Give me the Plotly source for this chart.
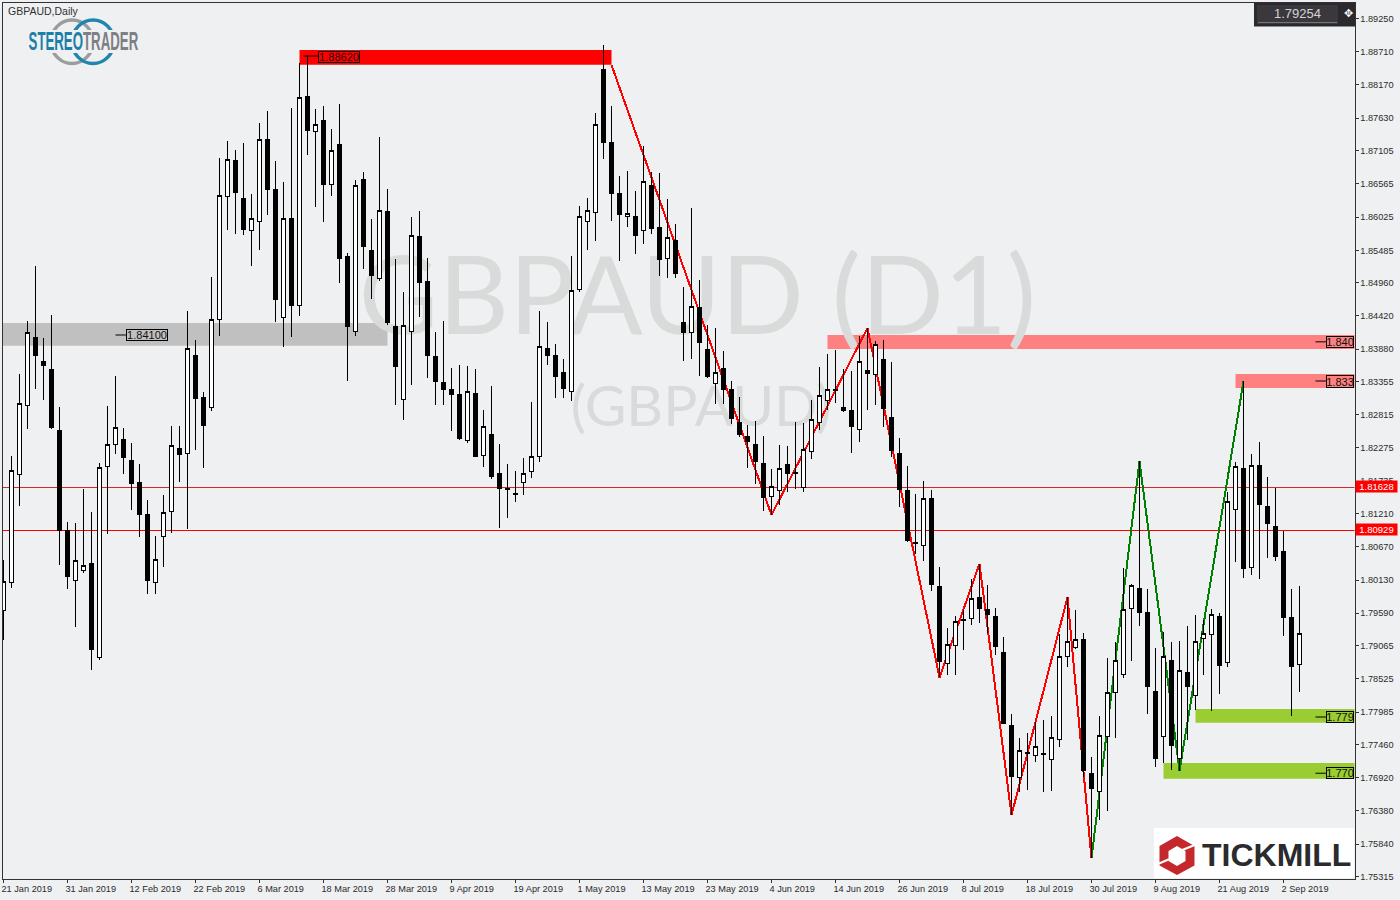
import plotly.graph_objects as go

highs = [1.80455,1.82144,1.83476,1.84337,1.85230,1.84061,1.84434,1.82940,1.81072,1.81056,
1.81608,1.81235,1.82026,1.82956,1.83443,1.82599,1.82355,1.82014,1.81430,1.80845,
1.81511,1.82631,1.82631,1.84499,1.84028,1.83179,1.85051,1.86984,1.87260,1.87114,
1.87228,1.86399,1.87552,1.87747,1.86935,1.86594,1.87796,1.88527,1.88640,1.87780,
1.87828,1.87455,1.87861,1.85436,1.86627,1.86757,1.85993,1.87325,1.86480,1.85344,
1.84808,1.86026,1.86123,1.85360,1.84158,1.84337,1.83573,1.83622,1.83606,1.83557,
1.82891,1.83281,1.82339,1.82014,1.81900,1.82112,1.83021,1.84499,1.84320,1.83963,
1.83719,1.85392,1.86204,1.86334,1.87715,1.88819,1.87828,1.86692,1.86773,1.86448,
1.87179,1.86757,1.86740,1.86318,1.85912,1.84889,1.86172,1.85003,1.84272,1.84223,
1.83849,1.83362,1.83102,1.82648,1.82713,1.82469,1.81933,1.82323,1.82307,1.82696,
1.82680,1.83054,1.83590,1.83801,1.83866,1.83557,1.83525,1.84093,1.84223,1.84012,
1.84028,1.83671,1.82436,1.81982,1.81527,1.81746,1.81595,1.80341,1.79350,1.79547,
1.79648,1.80140,1.80392,1.80051,1.79671,1.79201,1.77949,1.77564,1.77645,1.77830,
1.77853,1.77921,1.79247,1.79849,1.79643,1.79263,1.77256,1.77921,1.78863,1.79123,
1.80325,1.80065,1.82058,1.79984,1.79026,1.79286,1.79123,1.79140,1.79383,1.79562,
1.79481,1.79659,1.79594,1.81559,1.82042,1.83357,1.82177,1.82371,1.81803,1.81624,
1.80926,1.79984,1.80033]

body_tops = [1.80098,1.81905,1.83000,1.84153,1.84072,1.83671,1.83541,1.82566,1.80926,1.80450,
1.80369,1.80390,1.81961,1.82334,1.82610,1.82404,1.82063,1.81706,1.81186,1.80467,
1.81230,1.82318,1.82258,1.83893,1.83768,1.83086,1.84364,1.86378,1.86963,1.86935,
1.86334,1.86005,1.87288,1.87276,1.86464,1.86005,1.85993,1.87970,1.87975,1.87531,
1.87585,1.87109,1.87211,1.85376,1.86541,1.86627,1.85474,1.86134,1.86107,1.84239,
1.84267,1.85729,1.85701,1.84986,1.83752,1.83330,1.83232,1.83135,1.83195,1.83167,
1.82626,1.82501,1.81863,1.81608,1.81543,1.81863,1.82139,1.83926,1.83882,1.83768,
1.83492,1.84835,1.86037,1.86134,1.87531,1.88429,1.87228,1.86399,1.86086,1.86026,
1.86606,1.86545,1.85847,1.85696,1.85636,1.84320,1.84575,1.84548,1.83866,1.83504,
1.83557,1.83232,1.82696,1.82453,1.82323,1.82030,1.81652,1.81944,1.81998,1.81873,
1.82253,1.82740,1.83130,1.83227,1.83232,1.82924,1.82875,1.83682,1.83525,1.83958,
1.83719,1.82764,1.82177,1.81579,1.80739,1.81456,1.81446,1.80017,1.79083,1.79458,
1.79492,1.79833,1.79849,1.79659,1.79531,1.78945,1.77775,1.77361,1.77322,1.77428,
1.77317,1.77574,1.78888,1.79135,1.79167,1.79167,1.76991,1.77608,1.78306,1.78826,
1.79654,1.80044,1.79995,1.79606,1.78322,1.78891,1.78826,1.78663,1.78631,1.79135,
1.79265,1.79573,1.79541,1.81408,1.81977,1.81944,1.81993,1.81993,1.81316,1.81007,
1.80585,1.79513,1.79265]

body_bottoms = [1.79627,1.80093,1.81847,1.82968,1.83773,1.83611,1.82604,1.80942,1.80184,1.80125,
1.80288,1.78998,1.78875,1.81977,1.82334,1.82117,1.81694,1.81191,1.80119,1.80093,
1.80840,1.81246,1.82165,1.82188,1.83075,1.82636,1.82935,1.84364,1.86362,1.86420,
1.85819,1.85810,1.85956,1.86469,1.84683,1.84397,1.84585,1.84592,1.87427,1.87418,
1.86550,1.86557,1.85348,1.84244,1.84169,1.85543,1.85072,1.85024,1.84320,1.83594,
1.83065,1.84169,1.84959,1.83773,1.83351,1.83221,1.83140,1.82425,1.82393,1.82133,
1.82149,1.81808,1.81613,1.81592,1.81516,1.81710,1.81896,1.82139,1.83784,1.83432,
1.83237,1.83195,1.84851,1.85956,1.86102,1.87232,1.86404,1.86069,1.86037,1.85722,
1.85810,1.85836,1.85332,1.85355,1.85105,1.84147,1.84153,1.83984,1.83443,1.83325,
1.83221,1.82750,1.82485,1.82376,1.82052,1.81467,1.81490,1.81587,1.81857,1.81857,
1.81636,1.82214,1.82685,1.83042,1.83205,1.82880,1.82620,1.82578,1.83481,1.83468,
1.82916,1.82233,1.81595,1.80767,1.80723,1.80694,1.80057,1.78803,1.78776,1.79066,
1.79469,1.79508,1.79666,1.79565,1.79050,1.77796,1.76936,1.76924,1.77311,1.77276,
1.77299,1.77210,1.77540,1.78888,1.79034,1.77036,1.76741,1.76699,1.77592,1.78306,
1.78599,1.79671,1.79606,1.78404,1.77228,1.77592,1.77439,1.77228,1.78397,1.78258,
1.79183,1.79248,1.78745,1.78794,1.81279,1.80314,1.80336,1.81353,1.81045,1.80509,
1.79518,1.78722,1.78761]

lows = [1.79156,1.80005,1.81337,1.82587,1.83237,1.83058,1.82588,1.80379,1.79989,1.79372,
1.80249,1.78673,1.78836,1.80882,1.82182,1.81857,1.81272,1.80834,1.79908,1.79908,
1.80346,1.80889,1.81727,1.80963,1.82246,1.81954,1.82880,1.84098,1.85819,1.85754,
1.85738,1.85235,1.85495,1.86063,1.84325,1.83919,1.84082,1.84423,1.87038,1.86193,
1.85949,1.86372,1.84959,1.83367,1.84098,1.85186,1.84699,1.84991,1.84272,1.82977,
1.82734,1.83302,1.84407,1.83416,1.82977,1.82977,1.82555,1.82404,1.82360,1.82128,
1.81970,1.81775,1.80980,1.81142,1.81402,1.81516,1.81792,1.82052,1.83622,1.83091,
1.83091,1.83042,1.84813,1.85495,1.85641,1.86973,1.85966,1.85316,1.85868,1.85430,
1.85592,1.85754,1.85072,1.85040,1.85040,1.83692,1.83724,1.83448,1.83416,1.82994,
1.82994,1.82669,1.82458,1.81954,1.81694,1.81256,1.81186,1.81353,1.81564,1.81613,
1.81564,1.82100,1.82571,1.82896,1.83005,1.82859,1.82198,1.82376,1.82896,1.82980,
1.82618,1.82133,1.81321,1.80751,1.80560,1.80442,1.79956,1.78547,1.78587,1.78587,
1.79000,1.79403,1.79435,1.79274,1.78915,1.77787,1.76310,1.76684,1.76724,1.77176,
1.76695,1.76707,1.77423,1.78709,1.79010,1.76936,1.75610,1.76237,1.76383,1.77569,
1.78534,1.78820,1.79388,1.77959,1.77098,1.77153,1.77050,1.77033,1.77536,1.78019,
1.78592,1.78008,1.78284,1.78712,1.80427,1.80168,1.80216,1.80151,1.80492,1.80444,
1.79226,1.77926,1.78316]

directions = ("UUUUDDDDDU" "UDUUUDDDDU" "UUDUDDUUUD" "DUUDDUDUDU" "DUDDUDDUDD"
              "UUDDDDDDUD" "UDDDDUUUDD" "DUUUUDDDUD" "UDDUDDUDDU" "DDDDDDUUDD"
              "UUUUDDDUDU" "DDDDDUDDUU" "DUDDDDDUDU" "DUUUUDDUUU" "UUDDDUDUDU"
              "UUDUUDUDDD" "DDU")

y_tick_values = [1.89250,1.88710,1.88170,1.87630,1.87105,1.86565,1.86025,1.85485,1.84960,
                 1.84420,1.83880,1.83355,1.82815,1.82275,1.81735,1.81210,1.80670,1.80130,
                 1.79590,1.79065,1.78525,1.77985,1.77460,1.76920,1.76380,1.75840,1.75315]
x_tick_labels = ["21 Jan 2019","31 Jan 2019","12 Feb 2019","22 Feb 2019","6 Mar 2019","18 Mar 2019",
                 "28 Mar 2019","9 Apr 2019","19 Apr 2019","1 May 2019","13 May 2019","23 May 2019",
                 "4 Jun 2019","14 Jun 2019","26 Jun 2019","8 Jul 2019","18 Jul 2019","30 Jul 2019",
                 "9 Aug 2019","21 Aug 2019","2 Sep 2019"]

red_zigzag_x = [76, 96, 108, 117, 122, 126, 133, 136]
red_zigzag_y = [1.88494, 1.81186, 1.84223, 1.78547, 1.80392, 1.76310, 1.79849, 1.75610]
green_zigzag_x = [136, 142, 147, 155]
green_zigzag_y = [1.75610, 1.82058, 1.77033, 1.83357]

hline_prices = [1.81628, 1.80929]
last_price = "1.79254"

# band: x0, x1, upper price, lower price, colour
bands = [(37, 76, 1.88738, 1.88499, "#FF0000"),
         (-1, 48, 1.84304, 1.83936, "#C0C0C0"),
         (103, 170, 1.84109, 1.83882, "#FF8080"),
         (154, 170, 1.83476, 1.83249, "#FF8080"),
         (149, 170, 1.78035, 1.77813, "#9ACD32"),
         (145, 170, 1.77158, 1.76903, "#9ACD32")]

BG = "#EFF0F2"
W, H = 1400, 900
def px(x): return x / W
def py(y): return 1 - y / H

n = len(highs)
idx = list(range(n))
opens = [b if d == "U" else t for t, b, d in zip(body_tops, body_bottoms, directions)]
closes = [t if d == "U" else b for t, b, d in zip(body_tops, body_bottoms, directions)]

x_range = [-0.125, 168.875]
y_range = [1.75274, 1.89509]

fig = go.Figure()

# Watermarks below everything
fig.add_trace(go.Scatter(x=[86.75], y=[1.8456], mode="text", text=["GBPAUD (D1)"], hoverinfo="skip",
                         textfont=dict(family="Lato", size=109, color="#D9DBDB"), showlegend=False))
fig.add_trace(go.Scatter(x=[87.2], y=[1.82856], mode="text", text=["(GBPAUD)"], hoverinfo="skip",
                         textfont=dict(family="Lato", size=57, color="#D9DBDB"), showlegend=False))
# horizontal price lines
for price, col in zip(hline_prices, ["#D8262A", "#FF0000"]):
    fig.add_trace(go.Scatter(x=x_range, y=[price, price], mode="lines", hoverinfo="skip",
                             line=dict(color=col, width=1), showlegend=False))
# zigzags
fig.add_trace(go.Scatter(x=red_zigzag_x, y=red_zigzag_y, mode="lines", hoverinfo="skip",
                         line=dict(color="#FF0000", width=2), showlegend=False))
fig.add_trace(go.Scatter(x=green_zigzag_x, y=green_zigzag_y, mode="lines", hoverinfo="skip",
                         line=dict(color="#008000", width=2), showlegend=False))
# candles on an overlaid axis pair so that they sit on top
fig.add_trace(go.Candlestick(x=idx, open=opens, high=highs, low=lows, close=closes,
                             xaxis="x2", yaxis="y2", showlegend=False, whiskerwidth=0,
                             increasing=dict(line=dict(color="#000000", width=1), fillcolor="#FFFFFF"),
                             decreasing=dict(line=dict(color="#000000", width=1), fillcolor="#000000")))

shapes = []
for x0, x1, up, lo, col in bands:
    shapes.append(dict(type="rect", xref="x", yref="y", x0=x0, x1=x1, y0=lo, y1=up,
                       fillcolor=col, line=dict(width=0), layer="below"))

# small leader dashes of the price labels (candle index / price)
leaders = [(14.0, 15.3, 1.84109), (37.5, 39.3, 1.88640), (164.0, 165.3, 1.83998),
           (164.0, 165.3, 1.83362), (164.0, 165.3, 1.77905), (164.0, 165.3, 1.76992)]
for x0, x1, p in leaders:
    shapes.append(dict(type="line", xref="x", yref="y", x0=x0, x1=x1, y0=p, y1=p,
                       line=dict(color="#000000", width=1), layer="above"))

def paper_rect(x0, y0, x1, y1, fill, line=None):
    return dict(type="rect", xref="paper", yref="paper", x0=px(x0), x1=px(x1), y0=py(y1), y1=py(y0),
                fillcolor=fill, line=line or dict(width=0), layer="above")

# last-price box
shapes.append(paper_rect(1254, 3, 1355, 26.5, "#2B292D"))
shapes.append(paper_rect(1257, 5, 1338, 24, "#3A383D"))
shapes.append(dict(type="line", xref="paper", yref="paper", x0=px(1258), x1=px(1337), y0=py(22.5), y1=py(22.5),
                   line=dict(color="#77757A", width=1), layer="above"))

# Stereotrader logo rings
for cx, col in ((72, "#9A9C9E"), (93, "#1F87AD")):
    shapes.append(dict(type="circle", xref="paper", yref="paper", x0=px(cx - 21), x1=px(cx + 21),
                       y0=py(63.5), y1=py(20), line=dict(color=col, width=3.5), layer="above"))
shapes.append(paper_rect(26, 30, 140, 53, BG))

# Tickmill logo
shapes.append(paper_rect(1154, 828, 1354, 878, "#FFFFFF"))
def poly(points):
    return "M" + " L".join(f"{px(a):.5f},{py(b):.5f}" for a, b in points) + " Z"
outer = [(1177, 836), (1194.5, 846), (1194.5, 865.5), (1177, 875), (1159.5, 865.5), (1159.5, 846)]
inner = [(1177, 846), (1185.5, 851), (1185.5, 861), (1177, 866), (1168.5, 861), (1168.5, 851)]
shapes.append(dict(type="path", xref="paper", yref="paper", path=poly(outer) + " " + poly(inner),
                   fillcolor="#C5282C", line=dict(width=0), layer="above"))
for (a, b), (c, d) in (((1158, 864), (1173, 857.5)), ((1181, 850.5), (1196, 844.5))):
    shapes.append(dict(type="line", xref="paper", yref="paper", x0=px(a), x1=px(c), y0=py(b), y1=py(d),
                       line=dict(color="#FFFFFF", width=2), layer="above"))

annotations = []
def text_px(x, y, text, size, color, family="Liberation Sans", anchor="center", **kw):
    annotations.append(dict(xref="paper", yref="paper", x=px(x), y=py(y), text=text, showarrow=False,
                            xanchor=anchor, yanchor="middle", font=dict(family=family, size=size, color=color),
                            borderpad=0, **kw))

text_px(7, 10.5, "GBPAUD,Daily", 10.5, "#303030", anchor="left")
text_px(83, 41, '<b><span style="color:#1B7FA8">STEREO</span><span style="color:#7C7F83">TRADER</span></b>',
        25, "#7C7F83")
text_px(1297, 14, last_price, 13, "#D4D4D6")
text_px(1348, 14, "✥", 11, "#FFFFFF", family="DejaVu Sans")
text_px(1276, 855, "<b>TICKMILL</b>", 32, "#2B2B2D")

# labelled level boxes
boxes = [(147, 335.3, 42, 12, "1.84100"), (339, 56.5, 42, 12, "1.88620"),
         (1340, 341.7, 28, 12, "1.840"), (1340, 381, 28, 13, "1.833"),
         (1340, 717, 28, 12, "1.779"), (1340, 772.5, 28, 12, "1.770")]
for x, y, w, h, t in boxes:
    text_px(x, y, t, 11, "#101010", width=w - 2, height=h - 2, bordercolor="#000000", borderwidth=1, align="center")

# price tags on the axis
for y, t in ((486.3, "1.81628"), (529.5, "1.80929")):
    text_px(1376.5, y, t, 9.5, "#FFFFFF", bgcolor="#FF0000", width=41, height=11)

axis_font = dict(family="Liberation Sans", size=9.2, color="#2A2A2A")
fig.update_layout(
    width=W, height=H, autosize=False, margin=dict(l=0, r=0, t=0, b=0),
    paper_bgcolor=BG, plot_bgcolor=BG, boxgap=0.33, showlegend=False, hovermode=False,
    xaxis=dict(domain=[px(2.5), px(1354.5)], range=x_range, showgrid=False, zeroline=False, automargin=False,
               tickmode="array", tickvals=[8 * i for i in range(len(x_tick_labels))], ticktext=x_tick_labels,
               ticks="outside", ticklen=3, tickcolor="#333333", ticklabelposition="outside right",
               ticklabelshift=-3, ticklabelstandoff=1,
               tickfont=axis_font, showline=True, linecolor="#333333", linewidth=1, mirror=True,
               rangeslider=dict(visible=False), fixedrange=True),
    yaxis=dict(domain=[21 / H, 897.5 / H], range=y_range, side="right", showgrid=False, zeroline=False, automargin=False,
               tickmode="array", tickvals=y_tick_values, ticktext=[f"{v:.5f}" for v in y_tick_values],
               ticks="outside", ticklen=3, tickcolor="#333333", tickfont=axis_font,
               showline=True, linecolor="#333333", linewidth=1, mirror=True, fixedrange=True),
    xaxis2=dict(overlaying="x", domain=[px(2.5), px(1354.5)], range=x_range, visible=False, automargin=False,
                rangeslider=dict(visible=False), fixedrange=True),
    yaxis2=dict(overlaying="y", domain=[21 / H, 897.5 / H], range=y_range, visible=False, automargin=False, fixedrange=True),
    shapes=shapes, annotations=annotations,
)

post = """
document.body.style.margin='0';
document.querySelectorAll('.boxlayer path, .ohlclayer path, .scatterlayer .js-line, .layer-below .shapelayer path')
  .forEach(function(p){ p.style.shapeRendering='crispEdges'; });
document.querySelectorAll('.annotation').forEach(function(a){
  var t = a.querySelector('text');
  if (t && t.textContent.indexOf('STEREOTRADER') >= 0) {
    t.setAttribute('transform', 'translate(93 0) scale(0.53 1) translate(-83 0)');
  }
});
"""
fig.write_html("out.html", config=dict(displayModeBar=False), post_script=post)
